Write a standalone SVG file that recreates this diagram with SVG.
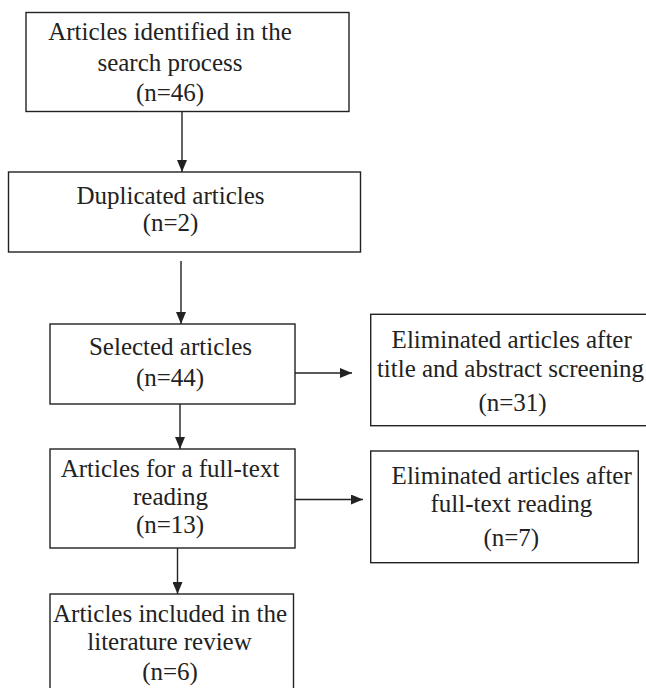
<svg xmlns="http://www.w3.org/2000/svg" width="646" height="688" viewBox="0 0 646 688">
<style>
.box{fill:#fff;stroke:#222;stroke-width:1.4}
.t{font-family:"Liberation Serif","Times New Roman",serif;font-size:25px;fill:#222;text-anchor:middle}
.c{stroke:#222;stroke-width:1.4;fill:none}
</style>
<defs>
<marker id="ah" markerUnits="userSpaceOnUse" markerWidth="12" markerHeight="10" refX="12" refY="5" orient="auto">
<path d="M0,0 L12,5 L0,10 z" fill="#222"/>
</marker>
</defs>
<rect width="646" height="688" fill="#fff"/>
<g id="connectors">
<line class="c" x1="182" y1="112" x2="182" y2="172" marker-end="url(#ah)"/>
<line class="c" x1="181" y1="261" x2="181" y2="324" marker-end="url(#ah)"/>
<line class="c" x1="180" y1="404" x2="180" y2="449" marker-end="url(#ah)"/>
<line class="c" x1="177.5" y1="548" x2="177.5" y2="594" marker-end="url(#ah)"/>
<line class="c" x1="295" y1="373" x2="352" y2="373" marker-end="url(#ah)"/>
<line class="c" x1="295" y1="499.5" x2="363" y2="499.5" marker-end="url(#ah)"/>
</g>
<g id="n1">
<rect class="box" x="26" y="12.5" width="323" height="99"/>
<text class="t" x="170" y="40">Articles identified in the</text>
<text class="t" x="170" y="71">search process</text>
<text class="t" x="170" y="101">(n=46)</text>
</g>
<g id="n2">
<rect class="box" x="8.5" y="172" width="352" height="80"/>
<text class="t" x="170.5" y="204">Duplicated articles</text>
<text class="t" x="170.5" y="231">(n=2)</text>
</g>
<g id="n3">
<rect class="box" x="50" y="324" width="245" height="80"/>
<text class="t" x="170.5" y="355">Selected articles</text>
<text class="t" x="170" y="386">(n=44)</text>
</g>
<g id="n4">
<rect class="box" x="50" y="449" width="245" height="99"/>
<text class="t" x="170" y="477">Articles for a full-text</text>
<text class="t" x="170.5" y="505">reading</text>
<text class="t" x="170" y="533">(n=13)</text>
</g>
<g id="n5">
<rect class="box" x="50" y="594" width="243.5" height="110"/>
<text class="t" x="170" y="622">Articles included in the</text>
<text class="t" x="169.5" y="650">literature review</text>
<text class="t" x="170" y="680">(n=6)</text>
</g>
<g id="n6">
<rect class="box" x="370.7" y="314.3" width="300" height="111.4"/>
<text class="t" x="511.7" y="348">Eliminated articles after</text>
<text class="t" x="510.5" y="377">title and abstract screening</text>
<text class="t" x="512.5" y="411">(n=31)</text>
</g>
<g id="n7">
<rect class="box" x="370.7" y="451" width="267.6" height="111.7"/>
<text class="t" x="511.7" y="484">Eliminated articles after</text>
<text class="t" x="511.3" y="512">full-text reading</text>
<text class="t" x="511.3" y="546">(n=7)</text>
</g>
</svg>
